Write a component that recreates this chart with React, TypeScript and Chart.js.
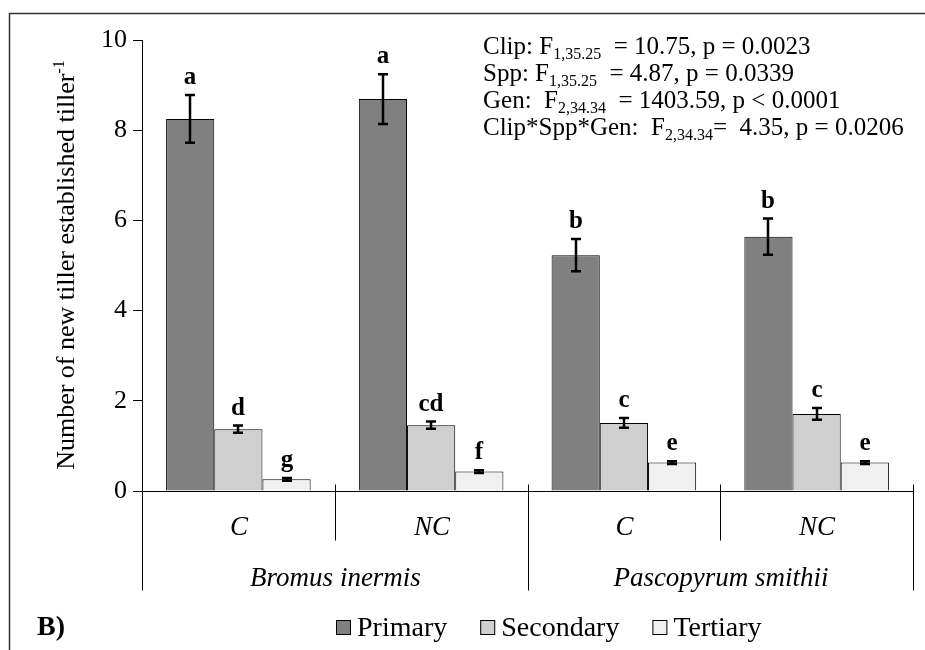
import React, { useEffect, useRef } from "react";
import { Chart, registerables } from "chart.js";

Chart.register(...registerables);

// Clipping treatments within each species
const groups = ["C", "NC", "C", "NC"];
const species = ["Bromus inermis", "Pascopyrum smithii"];
const seriesNames = ["Primary", "Secondary", "Tertiary"];
const seriesColors = ["#808080", "#cfcfcf", "#f0f0f0"];

// Mean new tillers per established tiller, with standard errors
const primary = [8.25, 8.69, 5.23, 5.64];
const primaryErr = [0.53, 0.55, 0.36, 0.4];
const secondary = [1.37, 1.46, 1.51, 1.71];
const secondaryErr = [0.08, 0.08, 0.11, 0.13];
const tertiary = [0.26, 0.43, 0.63, 0.63];
const tertiaryErr = [0.03, 0.03, 0.03, 0.03];

// Mean separation letters
const primaryLetters = ["a", "a", "b", "b"];
const secondaryLetters = ["d", "cd", "c", "c"];
const tertiaryLetters = ["g", "f", "e", "e"];

const yTicks = [0, 2, 4, 6, 8, 10];

// ANOVA summary: text, subscript, text
const statLines = [
  ["Clip: F", "1,35.25", "  = 10.75, p = 0.0023"],
  ["Spp: F", "1,35.25", "  = 4.87, p = 0.0339"],
  ["Gen:  F", "2,34.34", "  = 1403.59, p < 0.0001"],
  ["Clip*Spp*Gen:  F", "2,34.34", "=  4.35, p = 0.0206"],
];

const FONT = '"Liberation Serif", "Times New Roman", Times, serif';

const errors = [primaryErr, secondaryErr, tertiaryErr];
const letters = [primaryLetters, secondaryLetters, tertiaryLetters];

const decorPlugin = {
  id: "decor",
  afterDatasetsDraw(chart: any) {
    const ctx = chart.ctx;
    const ys = chart.scales.y;
    ctx.save();
    chart.data.datasets.forEach((ds: any, di: number) => {
      const meta = chart.getDatasetMeta(di);
      meta.data.forEach((bar: any, i: number) => {
        const v = ds.data[i];
        const e = errors[di][i];
        const x = Math.round(bar.x);
        const yt = ys.getPixelForValue(v + e);
        const yb = ys.getPixelForValue(v - e);
        ctx.strokeStyle = "#000";
        ctx.lineWidth = 2.5;
        ctx.beginPath();
        ctx.moveTo(x, yt);
        ctx.lineTo(x, yb);
        ctx.moveTo(x - 5, yt);
        ctx.lineTo(x + 5, yt);
        ctx.moveTo(x - 5, yb);
        ctx.lineTo(x + 5, yb);
        ctx.stroke();
        ctx.fillStyle = "#000";
        ctx.font = `bold 25px ${FONT}`;
        ctx.textAlign = "center";
        ctx.textBaseline = "alphabetic";
        ctx.fillText(letters[di][i], x, yt - 11);
      });
    });
    ctx.restore();
  },
  afterDraw(chart: any) {
    const ctx = chart.ctx;
    const area = chart.chartArea;
    const xs = chart.scales.x;
    const ys = chart.scales.y;
    const y0 = Math.round(ys.getPixelForValue(0)) + 0.5;
    const catW = xs.getPixelForValue(1) - xs.getPixelForValue(0);
    const edge = (i: number) => Math.round(xs.getPixelForValue(0) - catW / 2 + i * catW) + 0.5;

    ctx.save();
    ctx.fillStyle = "#000";

    // outer frame
    ctx.lineWidth = 1.5;
    ctx.strokeStyle = "#333";
    ctx.beginPath();
    ctx.moveTo(9.5, 660);
    ctx.lineTo(9.5, 13.5);
    ctx.lineTo(940, 13.5);
    ctx.stroke();

    // category axis with group separators
    ctx.strokeStyle = "#000";
    ctx.lineWidth = 1;
    ctx.beginPath();
    ctx.moveTo(area.left, y0);
    ctx.lineTo(edge(4), y0);
    for (let i = 0; i <= 4; i++) {
      const x = edge(i);
      const outer = i % 2 === 0;
      ctx.moveTo(x, i === 0 ? y0 : y0 - 7);
      ctx.lineTo(x, outer ? y0 + 99 : y0 + 49);
    }
    ctx.stroke();

    ctx.textAlign = "center";
    ctx.textBaseline = "middle";
    ctx.font = `italic 27px ${FONT}`;
    groups.forEach((g, i) => {
      ctx.fillText(g, (edge(i) + edge(i + 1)) / 2, y0 + 36);
    });
    species.forEach((s, i) => {
      ctx.fillText(s, (edge(2 * i) + edge(2 * i + 2)) / 2, y0 + 87);
    });

    // y axis title with superscript
    const mainTitle = "Number of new tiller established tiller";
    const sup = "-1";
    ctx.save();
    ctx.translate(65, 265);
    ctx.rotate(-Math.PI / 2);
    ctx.font = `26px ${FONT}`;
    const wMain = ctx.measureText(mainTitle).width;
    ctx.font = `16px ${FONT}`;
    const wSup = ctx.measureText(sup).width;
    const start = -(wMain + wSup) / 2;
    ctx.textAlign = "left";
    ctx.textBaseline = "alphabetic";
    ctx.font = `26px ${FONT}`;
    ctx.fillText(mainTitle, start, 9);
    ctx.font = `16px ${FONT}`;
    ctx.fillText(sup, start + wMain, -1);
    ctx.restore();

    // ANOVA summary
    ctx.textAlign = "left";
    ctx.textBaseline = "alphabetic";
    statLines.forEach((ln, i) => {
      const by = 54 + i * 27;
      let x = 483;
      ctx.font = `25px ${FONT}`;
      ctx.fillText(ln[0], x, by);
      x += ctx.measureText(ln[0]).width;
      ctx.font = `16px ${FONT}`;
      ctx.fillText(ln[1], x, by + 5);
      x += ctx.measureText(ln[1]).width;
      ctx.font = `25px ${FONT}`;
      ctx.fillText(ln[2], x, by);
    });

    // legend
    ctx.font = `28px ${FONT}`;
    let lx = 336;
    seriesNames.forEach((name, i) => {
      ctx.fillStyle = seriesColors[i];
      ctx.fillRect(lx, 620, 15, 15);
      ctx.strokeStyle = "#000";
      ctx.lineWidth = 1;
      ctx.strokeRect(lx + 0.5, 620.5, 14, 14);
      ctx.fillStyle = "#000";
      ctx.fillText(name, lx + 21, 636);
      lx += 21 + ctx.measureText(name).width + 33;
    });

    // panel label
    ctx.font = `bold 28px ${FONT}`;
    ctx.fillText("B)", 37, 635);
    ctx.restore();
  },
};

export default function App() {
  const canvasRef = useRef<HTMLCanvasElement | null>(null);

  useEffect(() => {
    if (!canvasRef.current) return;
    const chart = new Chart(canvasRef.current, {
      type: "bar",
      data: {
        labels: groups,
        datasets: [primary, secondary, tertiary].map((d, i) => ({
          label: seriesNames[i],
          data: d,
          backgroundColor: seriesColors[i],
          borderColor: "#000",
          borderWidth: 1,
          categoryPercentage: 0.75,
          barPercentage: 1,
        })),
      },
      options: {
        responsive: false,
        animation: false,
        devicePixelRatio: 1,
        layout: { padding: { left: 0, top: 40, right: 12, bottom: 159 } },
        plugins: {
          legend: { display: false },
          title: { display: false },
          tooltip: { enabled: false },
        },
        scales: {
          x: { display: false },
          y: {
            min: 0,
            max: 10,
            afterBuildTicks: (scale: any) => {
              scale.ticks = yTicks.map((v) => ({ value: v }));
            },
            afterFit: (scale: any) => {
              scale.width = 142;
            },
            border: { display: true, color: "#000", width: 1 },
            grid: {
              drawOnChartArea: false,
              drawTicks: true,
              tickLength: 9,
              color: "#000",
            },
            ticks: {
              color: "#000",
              padding: 6,
              font: { family: FONT, size: 26 },
            },
          },
        },
      },
      plugins: [decorPlugin],
    });
    return () => chart.destroy();
  }, []);

  return (
    <div style={{ position: "absolute", left: 0, top: 0, width: 925, height: 650, background: "#fff" }}>
      <canvas ref={canvasRef} width={925} height={650} style={{ display: "block" }} />
    </div>
  );
}
